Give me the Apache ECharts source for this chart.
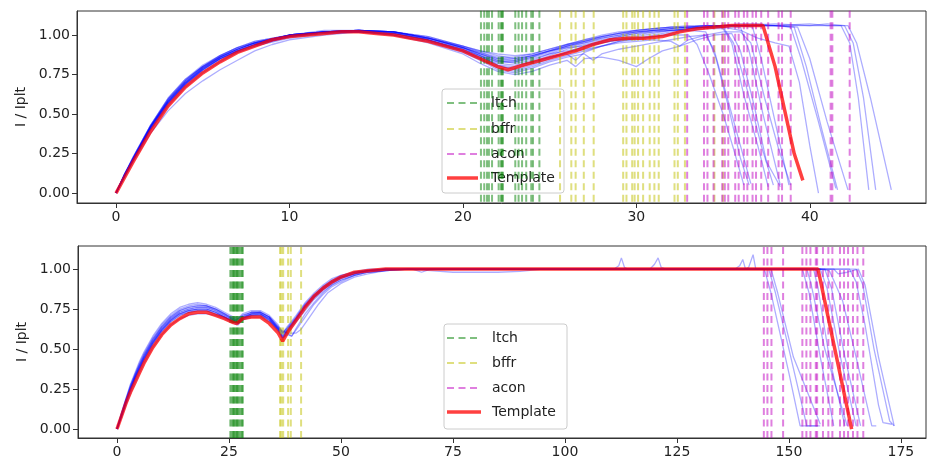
<!DOCTYPE html>
<html><head><meta charset="utf-8">
<script src="https://cdn.jsdelivr.net/npm/echarts@6/dist/echarts.min.js"></script>
<style>html,body{margin:0;padding:0;background:#fff}#c{width:928px;height:469px}</style>
</head><body><div id="c"></div>
<script>
// ---------- tick labels ----------
const topTicksX = [0, 10, 20, 30, 40];
const botTicksX = [0, 25, 50, 75, 100, 125, 150, 175];
const yTicks = [0, 0.25, 0.5, 0.75, 1.0];
const legendNames = ['ltch', 'bffr', 'acon', 'Template'];
const yName = 'I / Iplt';

// ---------- event markers (x positions) ----------
const topLtch = [21.04, 21.23, 21.39, 21.5, 21.68, 22.06, 22.19, 22.25, 22.31, 23.02, 23.21, 23.41, 23.65, 23.94, 24.04, 24.41];
const topBffr = [25.6, 26.25, 26.5, 26.97, 27.54, 29.24, 29.43, 29.76, 29.9, 30.1, 30.39, 30.77, 31.04, 31.29, 32.2, 32.39, 32.8, 34.5, 35.0];
const topAcon = [32.93, 33.9, 34.1, 34.45, 34.95, 35.1, 35.3, 35.7, 35.9, 36.2, 36.4, 36.7, 36.9, 37.2, 37.6, 38.2, 38.4, 38.9, 41.2, 41.3, 42.3];
const botLtch = [25.3, 25.6, 25.9, 26.1, 26.3, 26.6, 26.8, 27.0, 27.3, 27.6, 27.9, 28.1];
const botBffr = [36.4, 36.7, 37.1, 38.2, 38.8, 41.1];
const botAcon = [144.4, 145.2, 146.1, 148.7, 153.0, 153.9, 154.8, 156.0, 156.3, 157.6, 158.8, 159.7, 161.4, 162.3, 163.2, 164.3, 165.3, 166.6];

// ---------- templates ----------
const topTemplate = [[0,0],[0.5,0.1],[1,0.2],[2,0.39],[3,0.55],[4,0.67],[5,0.76],[6,0.83],[7,0.89],[8,0.93],[9,0.97],[10,0.99],[11,1.0],[12,1.01],[13,1.02],[14,1.02],[15,1.01],[16,1.0],[17,0.98],[18,0.96],[19,0.93],[20,0.9],[21,0.85],[22,0.8],[22.6,0.78],[23.5,0.81],[24.5,0.84],[25.5,0.87],[26.5,0.9],[27.5,0.94],[28.5,0.97],[29.5,0.98],[30.5,0.98],[31.5,0.99],[32.5,1.02],[33.5,1.04],[34.5,1.05],[35.5,1.06],[36.5,1.06],[37.3,1.06],[38,0.8],[38.6,0.5],[39.1,0.25],[39.6,0.08]];
const botTemplate = [[0,0],[1,0.08],[2,0.16],[3,0.23],[4,0.29],[5,0.35],[6,0.41],[8,0.51],[10,0.59],[12,0.65],[14,0.69],[16,0.72],[18,0.73],[20,0.73],[22,0.71],[24,0.69],[26,0.665],[26.8,0.66],[28,0.69],[30,0.7],[32,0.7],[34,0.66],[36,0.6],[37,0.55],[38,0.6],[40,0.68],[42,0.76],[44,0.83],[46,0.88],[48,0.92],[50,0.95],[53,0.98],[56,0.99],[60,1.0],[100,1.0],[156.5,1.0],[164,0.0]];

// ---------- individual runs, top panel ----------
const topRun01 = [[0,0],[0.5,0.11],[1,0.22],[2,0.41],[3,0.57],[4,0.69],[5,0.78],[6,0.85],[7,0.9],[8,0.94],[10,0.99],[12,1.01],[14,1.02],[16,1.01],[18,0.97],[20,0.91],[21,0.87],[22,0.83],[23,0.83],[24,0.85],[25,0.88],[26,0.9],[27,0.92],[28,0.95],[29,0.97],[30,0.98],[31,0.99],[32,1.0],[33,1.0],[33.5,0.94],[34.2,0.75],[35,0.5],[35.6,0.28],[36.2,0.05]];
const topRun02 = [[0,0],[0.5,0.12],[1,0.23],[2,0.43],[3,0.59],[4,0.71],[5,0.8],[6,0.86],[7,0.91],[8,0.95],[10,1.0],[12,1.02],[14,1.03],[16,1.02],[18,0.98],[20,0.92],[21,0.88],[22,0.84],[23,0.84],[24,0.87],[25,0.9],[26,0.93],[27,0.95],[28,0.97],[29,0.99],[30,1.01],[31,1.02],[32,1.03],[33,1.03],[34,1.02],[34.6,0.85],[35.3,0.55],[36,0.22],[36.5,0.05]];
const topRun03 = [[0,0],[0.5,0.11],[1,0.21],[2,0.4],[3,0.56],[4,0.68],[5,0.77],[6,0.84],[7,0.89],[8,0.93],[10,0.99],[12,1.01],[14,1.02],[16,1.0],[18,0.96],[20,0.9],[21,0.85],[22,0.8],[23,0.79],[24,0.82],[25,0.86],[26,0.88],[26.5,0.84],[27,0.89],[28,0.93],[29,0.96],[30,0.97],[31,0.99],[32,1.01],[33,1.03],[34,1.04],[35,1.04],[35.5,0.95],[36.2,0.62],[37,0.3],[37.6,0.04]];
const topRun04 = [[0,0],[0.5,0.12],[1,0.22],[2,0.42],[3,0.58],[4,0.7],[5,0.79],[6,0.85],[7,0.9],[8,0.94],[10,0.99],[12,1.02],[14,1.03],[16,1.02],[18,0.98],[20,0.92],[21,0.87],[22,0.81],[23,0.8],[24,0.83],[25,0.87],[26,0.91],[27,0.94],[28,0.96],[29,0.98],[30,1.0],[31,1.02],[32,1.03],[33,1.04],[34,1.05],[35,1.05],[36,1.05],[36.5,0.9],[37.3,0.5],[38.3,0.05]];
const topRun05 = [[0,0],[0.5,0.11],[1,0.21],[2,0.41],[3,0.57],[4,0.69],[5,0.78],[6,0.85],[7,0.9],[8,0.94],[10,1.0],[12,1.02],[14,1.03],[16,1.01],[18,0.97],[20,0.9],[21,0.85],[22,0.79],[23,0.77],[24,0.8],[25,0.84],[26,0.87],[27,0.9],[28,0.93],[29,0.96],[30,0.98],[31,1.0],[32,1.02],[33,1.04],[34,1.05],[35,1.06],[36,1.06],[36.7,1.05],[37.2,0.85],[38,0.45],[38.8,0.05]];
const topRun06 = [[0,0],[0.5,0.1],[1,0.2],[2,0.38],[3,0.52],[4,0.63],[5,0.71],[6,0.78],[7,0.84],[8,0.9],[9,0.94],[10,0.97],[12,1.0],[14,1.02],[16,1.0],[18,0.95],[20,0.88],[21,0.82],[22,0.77],[23,0.75],[24,0.77],[25,0.81],[26,0.84],[26.5,0.8],[27,0.85],[28,0.86],[29,0.84],[30,0.8],[30.7,0.85],[31.5,0.9],[32.5,0.93],[33.5,0.97],[34.5,1.0],[35.5,1.01],[36,0.9],[36.8,0.55],[37.5,0.2],[38.3,0.04]];
const topRun07 = [[0,0],[0.5,0.12],[1,0.23],[2,0.43],[3,0.6],[4,0.72],[5,0.8],[6,0.87],[7,0.92],[8,0.96],[10,1.0],[12,1.02],[14,1.03],[16,1.02],[18,0.99],[20,0.93],[21,0.89],[22,0.86],[23,0.86],[24,0.88],[25,0.91],[26,0.94],[27,0.96],[28,0.98],[29,1.0],[30,1.02],[31,1.03],[32,1.03],[33,1.04],[34,1.05],[35,1.05],[36,1.03],[37,0.98],[38,0.95],[38.8,0.93],[39.4,0.7],[40,0.3],[40.5,0.0]];
const topRun08 = [[0,0],[0.5,0.11],[1,0.22],[2,0.42],[3,0.58],[4,0.7],[5,0.79],[6,0.86],[7,0.91],[8,0.95],[10,1.0],[12,1.02],[14,1.03],[16,1.02],[18,0.98],[20,0.92],[21,0.88],[22,0.84],[23,0.82],[24,0.84],[25,0.88],[26,0.92],[27,0.95],[28,0.98],[29,1.0],[30,1.02],[31,1.03],[32,1.04],[33,1.05],[34,1.05],[35,1.06],[36,1.06],[37,1.06],[38,1.06],[38.9,1.05],[39.5,0.85],[40.5,0.45],[41.5,0.03]];
const topRun09 = [[0,0],[0.5,0.12],[1,0.22],[2,0.42],[3,0.59],[4,0.71],[5,0.8],[6,0.87],[7,0.92],[8,0.95],[10,1.0],[12,1.03],[14,1.03],[16,1.02],[18,0.99],[20,0.93],[21,0.9],[22,0.87],[23,0.85],[24,0.87],[25,0.9],[26,0.93],[27,0.96],[28,0.99],[29,1.01],[30,1.03],[31,1.04],[32,1.05],[33,1.05],[34,1.06],[35,1.06],[36,1.07],[37,1.07],[38,1.06],[39.1,1.05],[39.8,0.8],[40.7,0.4],[41.6,0.02]];
const topRun10 = [[0,0],[0.5,0.11],[1,0.21],[2,0.41],[3,0.57],[4,0.69],[5,0.78],[6,0.85],[7,0.9],[8,0.94],[10,0.99],[12,1.02],[14,1.02],[16,1.01],[18,0.97],[20,0.9],[21,0.86],[22,0.81],[23,0.78],[24,0.81],[25,0.85],[26,0.89],[27,0.93],[28,0.96],[29,0.99],[30,1.01],[31,1.03],[32,1.04],[33,1.05],[34,1.05],[35,1.06],[36,1.06],[37,1.06],[38,1.06],[39.3,1.05],[40,0.85],[41,0.45],[42.2,0.02]];
const topRun11 = [[0,0],[0.5,0.12],[1,0.23],[2,0.43],[3,0.6],[4,0.72],[5,0.81],[6,0.87],[7,0.92],[8,0.96],[10,1.0],[12,1.02],[14,1.03],[16,1.02],[18,0.98],[20,0.92],[21,0.89],[22,0.85],[23,0.84],[24,0.86],[25,0.89],[26,0.93],[27,0.96],[28,0.99],[29,1.01],[30,1.03],[31,1.04],[32,1.05],[33,1.05],[34,1.06],[35,1.06],[36,1.06],[38,1.06],[40,1.07],[41,1.06],[41.8,1.06],[42.3,0.95],[42.8,0.6],[43.4,0.02]];
const topRun12 = [[0,0],[0.5,0.11],[1,0.22],[2,0.42],[3,0.58],[4,0.7],[5,0.79],[6,0.86],[7,0.91],[8,0.95],[10,1.0],[12,1.02],[14,1.03],[16,1.01],[18,0.97],[20,0.91],[21,0.87],[22,0.83],[23,0.83],[24,0.86],[25,0.9],[26,0.94],[27,0.97],[28,1.0],[29,1.02],[30,1.03],[31,1.04],[32,1.05],[33,1.06],[34,1.06],[36,1.06],[38,1.07],[40,1.06],[41,1.07],[42,1.06],[42.5,0.95],[43.1,0.6],[43.8,0.02]];
const topRun13 = [[0,0],[0.5,0.12],[1,0.22],[2,0.42],[3,0.59],[4,0.71],[5,0.8],[6,0.86],[7,0.91],[8,0.95],[10,1.0],[12,1.02],[14,1.03],[16,1.02],[18,0.98],[20,0.93],[21,0.9],[22,0.88],[23,0.87],[24,0.88],[25,0.91],[26,0.94],[27,0.97],[28,0.99],[29,1.01],[30,1.02],[31,1.03],[32,1.04],[33,1.05],[34,1.06],[36,1.06],[38,1.06],[40,1.06],[41,1.06],[42.2,1.06],[42.7,0.95],[43.5,0.6],[44.7,0.02]];
const topRun14 = [[0,0],[0.5,0.11],[1,0.21],[2,0.4],[3,0.55],[4,0.67],[5,0.76],[6,0.83],[7,0.89],[8,0.93],[10,0.98],[12,1.01],[14,1.02],[16,1.0],[18,0.96],[20,0.89],[21,0.84],[22,0.78],[23,0.76],[24,0.79],[25,0.83],[26,0.86],[27,0.88],[27.5,0.84],[28,0.88],[29,0.91],[30,0.93],[31,0.95],[32,0.97],[33,0.99],[34,1.0],[34.5,0.9],[35.2,0.62],[36,0.3],[36.6,0.06]];
const topRun15 = [[0,0],[0.5,0.12],[1,0.22],[2,0.42],[3,0.58],[4,0.7],[5,0.79],[6,0.86],[7,0.91],[8,0.95],[10,1.0],[12,1.02],[14,1.03],[16,1.02],[18,0.98],[20,0.92],[21,0.88],[22,0.85],[23,0.85],[24,0.87],[25,0.9],[26,0.92],[27,0.93],[28,0.95],[29,0.97],[30,0.99],[31,1.01],[32,1.03],[33,1.04],[34,1.05],[35,1.05],[35.6,0.95],[36.4,0.65],[37.2,0.3],[37.9,0.05]];
const topRun16 = [[0,0],[0.5,0.11],[1,0.21],[2,0.41],[3,0.57],[4,0.69],[5,0.78],[6,0.85],[7,0.9],[8,0.94],[10,0.99],[12,1.02],[14,1.02],[16,1.01],[18,0.97],[20,0.91],[21,0.86],[22,0.82],[23,0.81],[24,0.83],[25,0.86],[26,0.89],[27,0.91],[28,0.93],[29,0.95],[30,0.96],[31,0.97],[32,0.96],[32.5,0.93],[33,0.97],[34,1.0],[35,1.02],[36,1.02],[36.6,0.95],[37.4,0.6],[38.2,0.28],[38.9,0.05]];
const topRuns = [topRun01, topRun02, topRun03, topRun04, topRun05, topRun06, topRun07, topRun08, topRun09, topRun10, topRun11, topRun12, topRun13, topRun14, topRun15, topRun16];

// ---------- individual runs, bottom panel ----------
const botRun01 = [[0,0],[1,0.1],[2,0.19],[3,0.27],[4,0.34],[5,0.41],[6,0.47],[8,0.57],[10,0.65],[12,0.71],[14,0.75],[16,0.77],[18,0.78],[20,0.77],[22,0.75],[24,0.72],[26,0.69],[26.6,0.68],[28,0.71],[30,0.73],[32,0.73],[34,0.7],[36,0.64],[37,0.6],[38,0.63],[40,0.7],[42,0.78],[44,0.84],[46,0.89],[48,0.93],[50,0.96],[53,0.98],[56,0.99],[60,1.0],[80,1.0],[100,1.0],[120,1.0],[140,1.0],[144.5,1.0],[146,0.85],[148,0.6],[150,0.35],[152.5,0.02],[156.5,0.02]];
const botRun02 = [[0,0],[1,0.08],[2,0.16],[3,0.24],[4,0.31],[5,0.37],[6,0.43],[8,0.53],[10,0.61],[12,0.67],[14,0.71],[16,0.73],[18,0.74],[20,0.74],[22,0.72],[24,0.7],[26,0.67],[27,0.66],[28,0.68],[30,0.71],[32,0.71],[34,0.68],[36,0.63],[38,0.6],[39,0.58],[40,0.63],[42,0.72],[44,0.79],[46,0.85],[48,0.9],[50,0.93],[53,0.96],[56,0.98],[60,0.99],[65,1.0],[70,0.99],[75,0.98],[80,0.98],[85,0.98],[90,0.985],[95,1.0],[145.5,1.0],[147,0.85],[150,0.5],[154,0.02],[157,0.02]];
const botRun03 = [[0,0],[1,0.09],[2,0.17],[3,0.25],[4,0.32],[5,0.38],[6,0.44],[8,0.54],[10,0.62],[12,0.68],[14,0.72],[16,0.74],[18,0.75],[20,0.75],[22,0.73],[24,0.7],[26,0.67],[27,0.67],[28,0.69],[30,0.72],[32,0.73],[34,0.7],[36,0.63],[37,0.57],[38,0.62],[40,0.69],[42,0.77],[44,0.83],[46,0.88],[48,0.92],[50,0.95],[53,0.98],[56,0.99],[60,1.0],[100,1.0],[111,1.0],[112,1.02],[112.6,1.07],[113.3,1.01],[114,1.0],[119,1.0],[120,1.03],[120.8,1.07],[121.5,1.01],[122.5,1.0],[146,1.0],[147.5,0.85],[151,0.45],[157,0.03]];
const botRun04 = [[0,0],[1,0.09],[2,0.18],[3,0.26],[4,0.33],[5,0.39],[6,0.45],[8,0.55],[10,0.63],[12,0.69],[14,0.73],[16,0.75],[18,0.76],[20,0.76],[22,0.74],[24,0.71],[26,0.68],[27,0.67],[28,0.7],[30,0.72],[32,0.72],[34,0.69],[36,0.62],[37,0.58],[38,0.61],[40,0.68],[42,0.76],[44,0.82],[46,0.87],[48,0.91],[50,0.94],[53,0.97],[56,0.99],[60,1.0],[100,1.0],[138,1.0],[139,1.02],[139.7,1.06],[140.3,1.0],[141,1.01],[142,1.09],[142.6,1.0],[153,1.0],[154.5,0.85],[157,0.45],[160,0.02]];
const botRun05 = [[0,0],[1,0.07],[2,0.15],[3,0.22],[4,0.29],[5,0.35],[6,0.41],[8,0.51],[10,0.59],[12,0.65],[14,0.69],[16,0.71],[18,0.72],[20,0.72],[22,0.71],[24,0.69],[26,0.66],[27,0.65],[28,0.68],[30,0.7],[32,0.7],[34,0.67],[36,0.62],[38,0.6],[40,0.6],[41,0.62],[43,0.7],[45,0.78],[47,0.85],[50,0.91],[53,0.95],[56,0.97],[60,0.99],[65,1.0],[100,1.0],[154,1.0],[155,0.9],[158,0.5],[163,0.02]];
const botRun06 = [[0,0],[1,0.1],[2,0.19],[3,0.28],[4,0.35],[5,0.42],[6,0.48],[8,0.58],[10,0.66],[12,0.72],[14,0.76],[16,0.78],[18,0.79],[20,0.78],[22,0.76],[24,0.73],[26,0.7],[27,0.69],[28,0.72],[30,0.74],[32,0.74],[34,0.71],[36,0.65],[37,0.6],[38,0.64],[40,0.71],[42,0.79],[44,0.85],[46,0.9],[48,0.94],[50,0.96],[53,0.98],[56,1.0],[100,1.0],[155.5,1.0],[156.5,0.88],[159,0.45],[162.5,0.02]];
const botRun07 = [[0,0],[1,0.08],[2,0.17],[3,0.25],[4,0.32],[5,0.38],[6,0.44],[8,0.54],[10,0.62],[12,0.68],[14,0.72],[16,0.74],[18,0.75],[20,0.75],[22,0.73],[24,0.7],[26,0.67],[27,0.66],[28,0.69],[30,0.72],[32,0.72],[34,0.68],[36,0.61],[37,0.56],[38,0.6],[40,0.67],[42,0.74],[44,0.81],[46,0.86],[48,0.9],[50,0.93],[53,0.96],[56,0.98],[60,0.99],[66,1.0],[68,0.98],[70,1.0],[100,1.0],[157,1.0],[158.5,0.88],[161.5,0.45],[165,0.02]];
const botRun08 = [[0,0],[1,0.09],[2,0.18],[3,0.26],[4,0.33],[5,0.4],[6,0.46],[8,0.56],[10,0.64],[12,0.7],[14,0.74],[16,0.76],[18,0.77],[20,0.77],[22,0.75],[24,0.72],[26,0.68],[27,0.67],[28,0.7],[30,0.73],[32,0.73],[34,0.7],[36,0.63],[37,0.58],[38,0.62],[40,0.69],[42,0.77],[44,0.83],[46,0.88],[48,0.92],[50,0.95],[53,0.97],[56,0.99],[60,1.0],[100,1.0],[158,1.0],[159.5,0.88],[162.5,0.45],[166,0.02]];
const botRun09 = [[0,0],[1,0.08],[2,0.16],[3,0.24],[4,0.31],[5,0.37],[6,0.43],[8,0.53],[10,0.61],[12,0.67],[14,0.71],[16,0.73],[18,0.74],[20,0.74],[22,0.72],[24,0.7],[26,0.67],[27,0.66],[28,0.69],[30,0.71],[32,0.71],[34,0.68],[36,0.62],[37,0.57],[38,0.59],[39,0.58],[40,0.62],[42,0.7],[44,0.78],[46,0.84],[48,0.89],[50,0.92],[53,0.96],[56,0.98],[60,0.99],[65,1.0],[100,1.0],[157,1.0],[159,0.99],[160,0.93],[162,0.8],[165,0.45],[168.5,0.02],[169.5,0.02]];
const botRun10 = [[0,0],[1,0.09],[2,0.17],[3,0.25],[4,0.32],[5,0.39],[6,0.45],[8,0.55],[10,0.63],[12,0.69],[14,0.73],[16,0.75],[18,0.76],[20,0.76],[22,0.74],[24,0.71],[26,0.68],[27,0.67],[28,0.7],[30,0.72],[32,0.72],[34,0.69],[36,0.63],[37,0.59],[38,0.62],[40,0.69],[42,0.77],[44,0.83],[46,0.88],[48,0.92],[50,0.95],[53,0.97],[56,0.99],[60,1.0],[100,1.0],[163.5,1.0],[165,0.92],[167,0.65],[170,0.15],[171,0.04],[173,0.03]];
const botRun11 = [[0,0],[1,0.08],[2,0.17],[3,0.25],[4,0.32],[5,0.38],[6,0.44],[8,0.54],[10,0.62],[12,0.68],[14,0.72],[16,0.74],[18,0.75],[20,0.75],[22,0.73],[24,0.7],[26,0.67],[27,0.66],[28,0.69],[30,0.71],[32,0.72],[34,0.69],[36,0.62],[37,0.57],[38,0.61],[40,0.68],[42,0.76],[44,0.82],[46,0.87],[48,0.91],[50,0.94],[53,0.97],[56,0.99],[60,1.0],[100,1.0],[165,1.0],[166.5,0.9],[169,0.5],[172.5,0.05],[173.5,0.02]];
const botRun12 = [[0,0],[1,0.09],[2,0.18],[3,0.27],[4,0.34],[5,0.4],[6,0.46],[8,0.56],[10,0.64],[12,0.7],[14,0.74],[16,0.76],[18,0.77],[20,0.77],[22,0.75],[24,0.72],[26,0.69],[27,0.68],[28,0.71],[30,0.73],[32,0.73],[34,0.7],[36,0.64],[37,0.6],[38,0.63],[40,0.7],[42,0.78],[44,0.84],[46,0.89],[48,0.93],[50,0.95],[53,0.98],[56,0.99],[60,1.0],[100,1.0],[158,1.0],[160,1.0],[161,0.97],[163,0.98],[165.5,1.0],[167,0.9],[170,0.45],[173.5,0.02]];
const botRuns = [botRun01, botRun02, botRun03, botRun04, botRun05, botRun06, botRun07, botRun08, botRun09, botRun10, botRun11, botRun12];

// ---------- styling ----------
const FONT = 'DejaVu Sans';
const C_BLUE = 'rgba(0,0,255,0.32)';
const C_RED = 'rgba(255,0,0,0.75)';
const C_G = 'rgba(0,128,0,0.5)';
const C_Y = 'rgba(191,191,0,0.5)';
const C_M = 'rgba(191,0,191,0.5)';
const DASH = [7, 4.5];

const series = [];
function addLine(data, idx, color, width, z) {
  series.push({type: 'line', xAxisIndex: idx, yAxisIndex: idx, data: data, showSymbol: false, symbol: 'none',
    lineStyle: {color: color, width: width}, silent: true, animation: false, z: z, clip: true});
}
function addVLines(vals, idx, color) {
  vals.forEach(v => {
    series.push({type: 'line', xAxisIndex: idx, yAxisIndex: idx, data: [[v, -0.2], [v, 1.3]], showSymbol: false, symbol: 'none',
      lineStyle: {color: color, width: 2, type: DASH}, silent: true, animation: false, z: 3, clip: true});
  });
}
topRuns.forEach(r => addLine(r, 0, C_BLUE, 1.3, 2));
botRuns.forEach(r => addLine(r, 1, C_BLUE, 1.3, 2));
addVLines(topLtch, 0, C_G); addVLines(topBffr, 0, C_Y); addVLines(topAcon, 0, C_M);
addVLines(botLtch, 1, C_G); addVLines(botBffr, 1, C_Y); addVLines(botAcon, 1, C_M);
addLine(topTemplate, 0, C_RED, 3.5, 4);
addLine(botTemplate, 1, C_RED, 3.5, 4);

function xAxisCfg(idx, min, max, ticks) {
  return {gridIndex: idx, type: 'value', min: min, max: max,
    axisLine: {show: true, onZero: false, lineStyle: {color: '#333', width: 1}},
    axisTick: {show: true, inside: false, length: 5, customValues: ticks, lineStyle: {color: '#333'}},
    axisLabel: {customValues: ticks, fontSize: 14, color: '#222', margin: 7, fontFamily: FONT},
    splitLine: {show: false}};
}
function yAxisCfg(idx, min, max) {
  return {gridIndex: idx, type: 'value', min: min, max: max, name: yName, nameLocation: 'middle', nameRotate: 90, nameGap: 47,
    nameTextStyle: {fontSize: 14, color: '#222', fontFamily: FONT},
    axisLine: {show: true, onZero: false, lineStyle: {color: '#333', width: 1}},
    axisTick: {show: true, inside: false, length: 5, customValues: yTicks, lineStyle: {color: '#333'}},
    axisLabel: {customValues: yTicks, fontSize: 14, color: '#222', margin: 7, fontFamily: FONT, formatter: v => v.toFixed(2)},
    splitLine: {show: false}};
}

function legend(x, y, w, h, rowsY, lx1, lx2, tx) {
  const els = [{type: 'rect', shape: {x: x, y: y, width: w, height: h, r: 3}, style: {fill: 'rgba(255,255,255,0.8)', stroke: '#cccccc', lineWidth: 1}}];
  const cols = [C_G, C_Y, C_M, C_RED];
  legendNames.forEach((n, i) => {
    const isT = i === 3;
    els.push({type: 'line', shape: {x1: lx1, y1: rowsY[i], x2: lx2, y2: rowsY[i]},
      style: {stroke: cols[i], lineWidth: isT ? 3.5 : 2, lineDash: isT ? null : DASH}});
    els.push({type: 'text', x: tx, y: rowsY[i], style: {text: n, fontSize: 14, fontFamily: FONT, fill: '#222', verticalAlign: 'middle'}});
  });
  return {type: 'group', z: 100, silent: true, children: els};
}

const chart = echarts.init(document.getElementById('c'));
chart.setOption({
  animation: false,
  backgroundColor: '#fff',
  grid: [
    {left: 77, top: 11, right: 2, height: 192, show: true, borderColor: '#333', borderWidth: 1, backgroundColor: 'transparent'},
    {left: 78, top: 246, right: 2, height: 192, show: true, borderColor: '#333', borderWidth: 1, backgroundColor: 'transparent'}
  ],
  xAxis: [xAxisCfg(0, -2.25, 46.7, topTicksX), xAxisCfg(1, -8.7, 180.6, botTicksX)],
  yAxis: [yAxisCfg(0, -0.063, 1.152), yAxisCfg(1, -0.056, 1.144)],
  series: series,
  graphic: [
    legend(442, 89, 122, 104, [103, 129, 154, 178], 447, 478, 491),
    legend(444, 324, 123, 105, [338, 363, 388, 412], 447, 481, 492)
  ]
});
</script></body></html>
